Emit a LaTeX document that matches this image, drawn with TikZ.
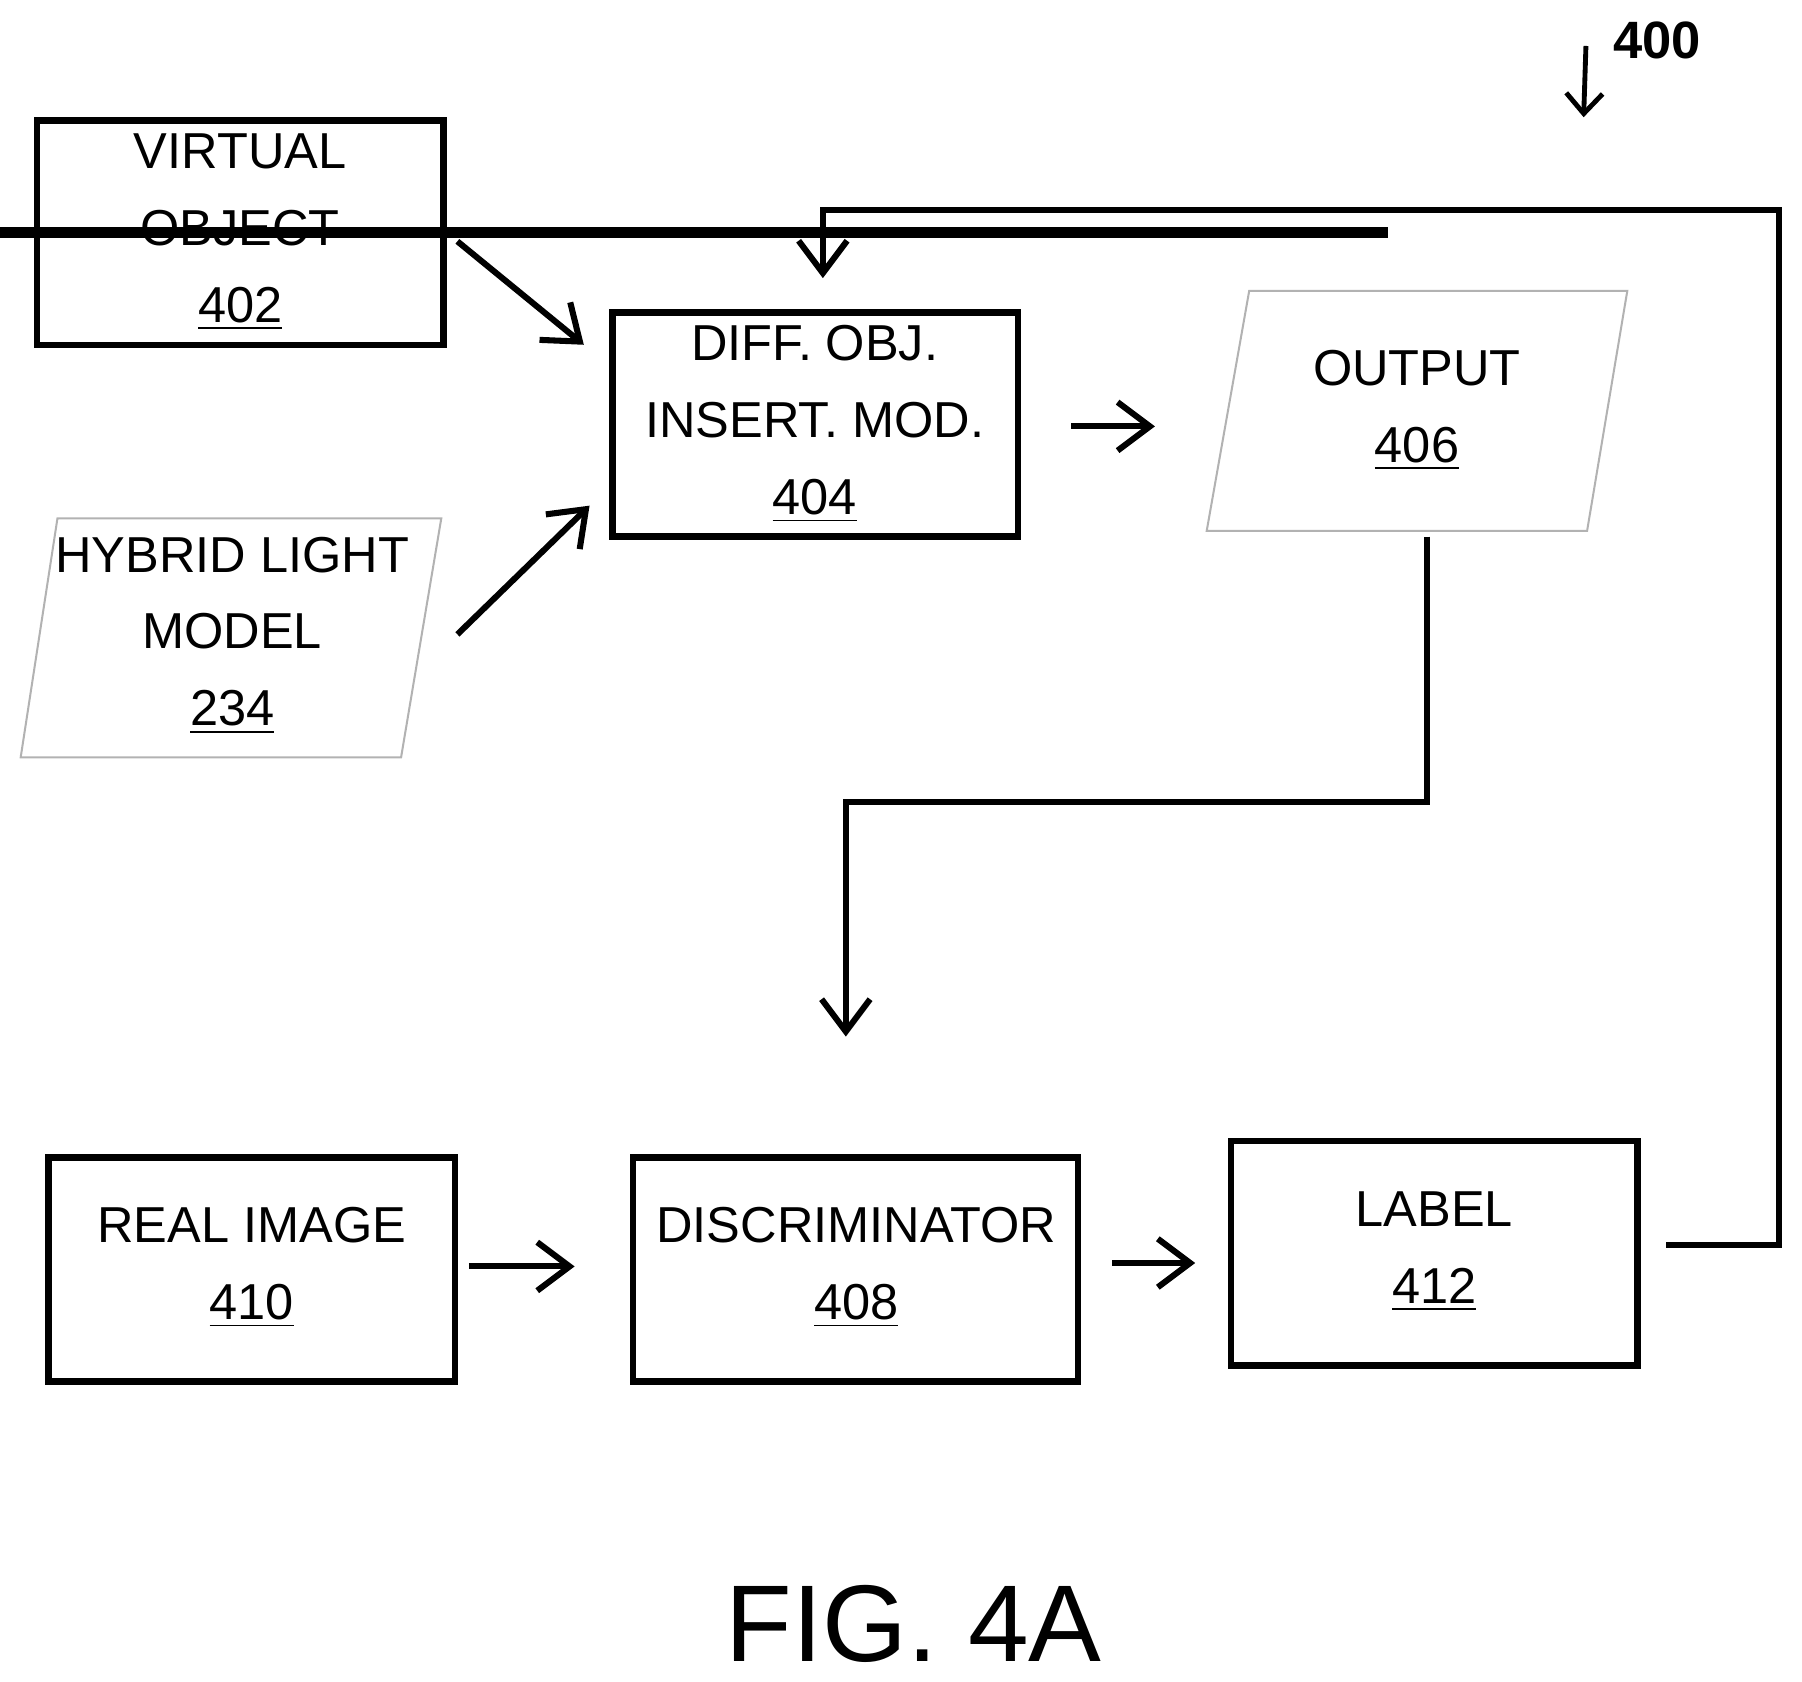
\documentclass[tikz,border=0pt]{standalone}
\usepackage{fontspec}
\setmainfont{Liberation Sans}
\usetikzlibrary{arrows.meta,shapes.geometric,decorations.pathmorphing}
\begin{document}
\begin{tikzpicture}[x=0.01cm,y=-0.01cm,
 box/.style={draw,line width=1.6pt,align=center,font=\fontsize{12.5}{19}\selectfont,inner sep=0pt},
 para/.style={draw=gray!60,line width=0.5pt,align=center,font=\fontsize{12.5}{19}\selectfont},
 arr/.style={line width=1.5pt,-{Straight Barb[length=8pt,width=12pt]}}]
\useasboundingbox (0,0) rectangle (1568,1463);
\node[box,minimum width=354\pgflinewidth,text width=3.4cm] (n402) at (209,202.5) {};
\draw[line width=1.6pt] (32,105) rectangle (386,300);
\node[align=center,font=\fontsize{12.5}{19}\selectfont] at (209,202) {VIRTUAL\\OBJECT\\\underline{402}};
\draw[line width=1.6pt] (533,272) rectangle (886,467);
\node (n404) [align=center,font=\fontsize{12.5}{19}\selectfont] at (709,369) {DIFF. OBJ.\\INSERT. MOD.\\\underline{404}};
\draw[para] (1087,253) -- (1416,253) -- (1381,462) -- (1050,462) -- cycle;
\node (n406) [align=center,font=\fontsize{12.5}{19}\selectfont] at (1233,357) {OUTPUT\\\underline{406}};
\draw[para] (50,451) -- (384,451) -- (349,659) -- (18,659) -- cycle;
\node (n234) [align=center,font=\fontsize{12.5}{19}\selectfont] at (202,553) {HYBRID LIGHT\\MODEL\\\underline{234}};
\draw[line width=1.6pt] (42,1007) rectangle (396,1202);
\node (n410) [align=center,font=\fontsize{12.5}{19}\selectfont] at (219,1103) {REAL IMAGE\\\underline{410}};
\draw[line width=1.6pt] (551,1007) rectangle (938,1202);
\node (n408) [align=center,font=\fontsize{12.5}{19}\selectfont] at (745,1103) {DISCRIMINATOR\\\underline{408}};
\draw[line width=1.6pt] (1071,993) rectangle (1425,1188);
\node (n412) [align=center,font=\fontsize{12.5}{19}\selectfont] at (1248,1089) {LABEL\\\underline{412}};
\coordinate (a1) at (398,210); \coordinate (b1) at (508,300);
\coordinate (a2) at (398,552); \coordinate (b2) at (513,440);
\coordinate (a3) at (932,371); \coordinate (b3) at (1005,371);
\coordinate (a4) at (1242,467); \coordinate (b4) at (736,902);
\coordinate (a5) at (408,1102); \coordinate (b5) at (500,1102);
\coordinate (a6) at (968,1099); \coordinate (b6) at (1040,1099);
\coordinate (a7) at (1450,1083); \coordinate (b7) at (716,242);
\draw[arr] (a1) -- (b1);
\draw[arr] (a2) -- (b2);
\draw[arr] (a3) -- (b3);
\draw[arr] (a4) -- (1242,698) -- (736,698) -- (b4);
\draw[arr] (a5) -- (b5);
\draw[arr] (a6) -- (b6);
\draw[arr] (a7) -- (1548,1083) -- (1548,183) -- (716,183) -- (b7);
\node[font=\bfseries\fontsize{13}{15}\selectfont] (n400) at (1442,35) {400};
\coordinate (s1) at (1380,40); \coordinate (s2) at (1378,102);
\draw[line width=1.2pt,-{Straight Barb[length=5pt,width=9pt]},decorate,decoration={snake,amplitude=3pt,segment length=22pt,post length=6pt}] (s1) -- (s2);
\node[font=\fontsize{27}{30}\selectfont] (fig) at (795,1413) {FIG. 4A};
\end{tikzpicture}
\end{document}
